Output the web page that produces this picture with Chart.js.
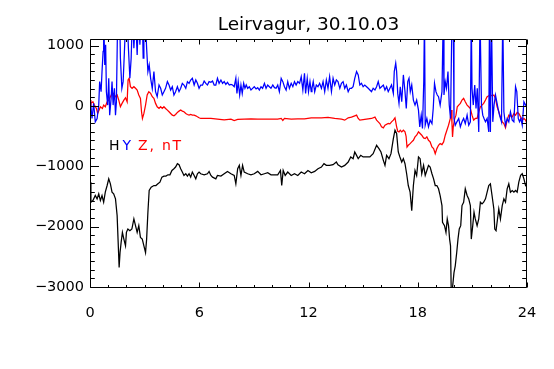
<!DOCTYPE html>
<html><head><meta charset="utf-8">
<script src="https://cdn.jsdelivr.net/npm/chart.js@4/dist/chart.umd.min.js"></script>
<style>html,body{margin:0;padding:0;background:#fff}</style>
</head><body>
<canvas id="c" width="554" height="369"></canvas>
<script>
const chartTitle = "Leirvagur, 30.10.03";
const xTicks = [0, 6, 12, 18, 24];
const yTicks = [-3000, -2000, -1000, 0, 1000];
const legendParts = ["H", "Y", "Z, nT"];

// H component (black)
const hoursH = [0.00,0.05,0.16,0.29,0.39,0.48,0.57,0.66,0.75,0.84,0.94,1.03,1.12,1.21,1.30,1.40,1.49,1.54,1.60,1.65,
1.71,1.78,1.86,1.95,2.00,2.08,2.19,2.30,2.41,2.50,2.59,2.68,2.77,2.87,2.96,3.05,3.11,3.18,3.25,3.36,
3.51,3.62,3.73,3.84,3.95,4.06,4.17,4.28,4.39,4.50,4.61,4.70,4.80,4.89,4.98,5.07,5.16,5.26,5.35,5.44,
5.53,5.62,5.72,5.81,5.90,5.99,6.08,6.27,6.45,6.54,6.64,6.73,6.91,7.00,7.19,7.37,7.55,7.74,7.92,8.01,
8.11,8.20,8.29,8.38,8.47,8.66,8.84,9.02,9.21,9.39,9.58,9.76,9.94,10.13,10.31,10.46,10.53,10.61,10.72,10.86,
11.05,11.23,11.41,11.60,11.78,11.97,12.15,12.34,12.52,12.71,12.85,12.98,13.16,13.35,13.53,13.62,13.81,13.99,14.18,14.32,
14.45,14.54,14.64,14.73,14.87,15.00,15.19,15.37,15.55,15.74,15.87,15.98,16.11,16.20,16.29,16.42,16.53,16.66,16.75,16.84,
16.93,17.02,17.12,17.21,17.30,17.39,17.48,17.58,17.67,17.76,17.85,17.94,18.04,18.13,18.22,18.32,18.41,18.50,18.59,18.68,
18.78,18.87,18.96,19.05,19.14,19.23,19.33,19.36,19.47,19.55,19.62,19.69,19.75,19.80,19.84,19.91,19.99,20.06,20.14,20.21,
20.28,20.36,20.43,20.52,20.61,20.71,20.80,20.89,20.94,21.02,21.09,21.16,21.26,21.35,21.44,21.53,21.62,21.72,21.81,21.90,
21.99,22.08,22.18,22.23,22.30,22.38,22.45,22.54,22.64,22.73,22.82,22.91,23.00,23.09,23.19,23.28,23.37,23.46,23.55,23.65,
23.74,23.83,23.92,24.00];
const valuesH = [-1264,-1597,-1570,-1486,-1542,-1459,-1570,-1486,-1597,-1431,-1320,-1209,-1292,-1431,-1459,-1542,-1820,-2209,-2681,-2431,
-2264,-2097,-2209,-2320,-2097,-2042,-2070,-2042,-1875,-1986,-2097,-1986,-2181,-2209,-2320,-2431,-2209,-1764,-1403,-1347,
-1320,-1320,-1292,-1264,-1181,-1164,-1164,-1142,-1142,-1070,-1042,-1014,-958,-975,-1042,-1097,-1153,-1125,-1164,-1125,
-1181,-1097,-1153,-1209,-1125,-1097,-1125,-1142,-1125,-1086,-1153,-1181,-1209,-1153,-1164,-1125,-1086,-1125,-1153,-1292,
-1042,-986,-1153,-986,-1097,-1125,-1142,-1125,-1086,-1142,-1125,-1108,-1142,-1142,-1142,-1070,-1320,-1070,-1153,-1097,
-1153,-1125,-1153,-1097,-1125,-1070,-1108,-1086,-1042,-1014,-958,-986,-986,-975,-931,-975,-1014,-986,-931,-847,
-875,-764,-820,-875,-819,-847,-847,-847,-792,-653,-708,-764,-903,-986,-819,-875,-792,-542,-403,-458,
-764,-847,-931,-875,-958,-1125,-1320,-1431,-1736,-1320,-1070,-1153,-847,-875,-1125,-986,-1153,-1070,-986,-1014,
-1125,-1209,-1320,-1320,-1375,-1486,-1653,-1931,-1986,-2097,-1875,-1986,-2209,-2320,-3100,-3014,-2764,-2653,-2431,-2209,
-2042,-1986,-1653,-1597,-1375,-1486,-1542,-1653,-2209,-1986,-1764,-1875,-1986,-1875,-1597,-1625,-1597,-1542,-1431,-1320,
-1292,-1486,-1709,-2042,-2070,-1875,-1709,-1875,-1653,-1542,-1597,-1375,-1292,-1431,-1403,-1431,-1403,-1431,-1264,-1153,
-1125,-1209,-1320,-1347];

// Y component (blue)
const hoursY = [0.00,0.02,0.11,0.20,0.29,0.39,0.48,0.53,0.61,0.66,0.72,0.75,0.81,0.86,0.90,0.97,1.03,1.08,1.16,1.21,
1.27,1.34,1.40,1.45,1.52,1.58,1.63,1.67,1.75,1.82,1.89,1.97,2.04,2.11,2.19,2.26,2.33,2.41,2.50,2.59,
2.66,2.74,2.81,2.87,2.92,2.96,3.03,3.11,3.18,3.25,3.33,3.42,3.51,3.60,3.69,3.79,3.88,3.97,4.06,4.15,
4.25,4.34,4.43,4.52,4.61,4.70,4.80,4.89,4.98,5.07,5.16,5.26,5.35,5.44,5.53,5.62,5.72,5.81,5.90,5.99,
6.08,6.18,6.27,6.36,6.45,6.54,6.64,6.73,6.82,6.91,7.00,7.09,7.19,7.28,7.37,7.46,7.55,7.65,7.74,7.83,
7.92,8.01,8.07,8.14,8.22,8.29,8.36,8.44,8.51,8.58,8.66,8.75,8.84,8.93,9.02,9.12,9.21,9.30,9.39,9.48,
9.58,9.67,9.76,9.85,9.94,10.04,10.13,10.22,10.31,10.40,10.50,10.59,10.68,10.77,10.86,10.95,11.05,11.14,11.23,11.32,
11.41,11.51,11.60,11.69,11.78,11.84,11.93,12.00,12.08,12.15,12.19,12.26,12.34,12.43,12.52,12.61,12.71,12.80,12.89,12.98,
13.07,13.16,13.26,13.35,13.44,13.53,13.62,13.72,13.81,13.90,13.99,14.08,14.18,14.27,14.36,14.45,14.54,14.64,14.73,14.82,
14.91,15.00,15.09,15.19,15.28,15.37,15.46,15.55,15.65,15.74,15.83,15.92,16.01,16.11,16.20,16.29,16.38,16.47,16.56,16.66,
16.71,16.79,16.84,16.90,16.97,17.04,17.12,17.21,17.30,17.37,17.45,17.52,17.59,17.67,17.76,17.85,17.94,18.04,18.11,18.19,
18.26,18.33,18.37,18.41,18.50,18.59,18.68,18.78,18.85,18.92,19.00,19.07,19.14,19.23,19.33,19.40,19.44,19.51,19.58,19.66,
19.73,19.80,19.88,19.95,19.99,20.06,20.15,20.25,20.34,20.43,20.52,20.61,20.71,20.80,20.89,20.94,20.98,21.05,21.13,21.20,
21.27,21.35,21.42,21.50,21.57,21.64,21.72,21.81,21.90,21.94,21.99,22.05,22.12,22.19,22.27,22.34,22.41,22.49,22.60,22.67,
22.73,22.82,22.91,23.00,23.09,23.19,23.28,23.37,23.44,23.52,23.59,23.66,23.74,23.83,23.92,24.00];
const valuesY = [292,97,-208,42,-264,-208,14,403,236,569,903,1500,681,1014,236,14,458,-153,125,403,
14,292,-153,69,1500,1500,1500,792,292,403,903,1500,1500,958,458,792,1500,958,1500,847,
1500,1014,1500,1500,792,1500,1500,958,569,681,458,292,569,236,153,347,292,181,236,292,
403,347,264,319,181,236,319,236,292,375,347,292,403,375,430,458,347,430,375,292,
347,347,414,375,347,403,392,414,347,347,458,375,430,375,403,358,392,347,358,347,
319,458,208,403,181,347,208,375,292,347,292,319,264,292,319,281,303,264,319,292,
375,292,347,319,292,347,303,292,347,236,458,403,319,264,403,292,375,319,403,347,
403,375,486,264,542,208,458,236,403,236,292,403,236,347,319,375,292,403,236,430,
292,486,236,458,347,430,403,292,375,403,292,347,236,292,292,319,458,569,514,347,
375,319,347,319,292,264,236,292,264,319,403,292,319,347,264,319,236,292,347,208,
569,708,569,208,42,319,69,514,236,-42,403,458,236,347,97,14,97,-69,-347,-153,
-375,403,1500,-320,-208,-347,-236,-292,-42,375,236,181,153,14,236,1500,181,403,292,569,
14,-208,1500,1500,-208,-320,-264,-208,-347,-264,-208,-292,-153,-320,-264,1500,292,14,347,-42,
292,-431,1500,14,-153,-208,-264,-208,-431,1500,-431,1500,-264,14,181,69,-42,-153,-264,1500,
-97,-320,-208,-264,-97,-236,-264,319,236,-208,-264,-208,-320,69,14,42];

// Z component (red)
const hoursZ = [0.00,0.05,0.16,0.24,0.35,0.42,0.50,0.57,0.68,0.75,0.84,0.94,1.03,1.12,1.21,1.30,1.40,1.49,1.58,1.67,
1.76,1.86,1.95,2.04,2.09,2.15,2.22,2.31,2.41,2.50,2.59,2.68,2.77,2.83,2.88,2.96,3.05,3.14,3.23,3.33,
3.42,3.51,3.60,3.69,3.79,3.88,3.97,4.06,4.15,4.25,4.34,4.43,4.52,4.61,4.70,4.80,4.89,4.98,5.07,5.16,
5.26,5.35,5.44,5.53,5.62,5.72,5.81,5.90,5.99,6.08,6.27,6.64,7.00,7.37,7.74,7.92,8.11,8.47,8.84,9.21,
9.58,9.94,10.31,10.50,10.59,10.68,11.05,11.41,11.78,12.15,12.34,12.71,13.07,13.44,13.81,13.99,14.18,14.36,14.54,14.64,
14.73,14.82,15.09,15.46,15.65,15.74,15.83,15.92,16.01,16.11,16.20,16.38,16.47,16.56,16.66,16.75,16.84,16.90,16.97,17.04,
17.12,17.21,17.30,17.36,17.41,17.48,17.58,17.67,17.76,17.85,17.94,18.04,18.13,18.22,18.32,18.41,18.50,18.59,18.68,18.78,
18.87,18.96,19.05,19.14,19.23,19.33,19.42,19.51,19.60,19.69,19.79,19.84,19.88,19.91,19.95,20.03,20.10,20.17,20.25,20.34,
20.43,20.52,20.61,20.71,20.80,20.89,20.98,21.07,21.16,21.26,21.35,21.44,21.53,21.62,21.72,21.81,21.90,21.99,22.08,22.18,
22.27,22.36,22.45,22.54,22.64,22.73,22.82,22.91,23.00,23.09,23.19,23.28,23.37,23.46,23.55,23.65,23.74,23.83,23.92,24.00];
const valuesZ = [97,42,69,14,-42,-125,-69,-14,-42,14,-14,69,97,153,208,208,153,181,97,-14,
42,97,136,69,430,458,319,292,319,292,264,181,125,-97,-208,-125,14,181,236,208,
153,125,42,-14,-42,-14,-42,-14,-42,-69,-97,-125,-153,-164,-142,-108,-86,-69,-86,-97,
-125,-142,-153,-142,-153,-153,-164,-181,-197,-208,-208,-208,-220,-231,-220,-242,-225,-220,-214,-220,
-220,-220,-220,-208,-242,-208,-220,-214,-214,-197,-197,-197,-192,-208,-220,-236,-197,-186,-164,-153,
-208,-236,-225,-208,-186,-236,-264,-292,-347,-364,-320,-292,-297,-264,-236,-197,-347,-420,-431,-403,
-431,-403,-431,-503,-681,-653,-625,-597,-570,-514,-486,-430,-458,-486,-531,-542,-514,-570,-597,-681,
-708,-792,-708,-653,-625,-642,-597,-486,-403,-320,-208,-69,-292,-514,-347,-208,-153,-14,14,42,
97,125,69,14,-14,-42,-153,-236,-208,-208,-97,-14,14,42,97,153,169,181,169,181,
125,-14,-97,-181,-264,-292,-364,-236,-153,-164,-181,-125,-153,-108,-125,-181,-236,-208,-236,-292];

const xMinorStep = 1;
const yMinorPerMajor = 7;

function pts(hs, vs) { return hs.map((h, i) => ({ x: h, y: vs[i] })); }

const FONT = "'DejaVu Sans', 'Liberation Sans', sans-serif";

const framePlugin = {
  id: 'frame',
  afterDraw(chart) {
    const { ctx, chartArea: a, scales: { x, y } } = chart;
    const L = Math.round(a.left) + 0.5, R = Math.round(a.right) - 0.5;
    const T = Math.round(a.top) + 0.5, B = Math.round(a.bottom) - 0.5;
    ctx.save();
    ctx.strokeStyle = '#000';
    ctx.lineWidth = 1;
    ctx.beginPath();
    ctx.rect(L, T, R - L, B - T);
    const xMajLen = 5, xMinLen = 2.5, yMajLen = 8.5, yMinLen = 4.3;
    for (let v = x.min; v <= x.max + 1e-9; v += xMinorStep) {
      const major = xTicks.includes(Math.round(v));
      const len = major ? xMajLen : xMinLen;
      const px = Math.round(x.getPixelForValue(v)) + 0.5;
      ctx.moveTo(px, B); ctx.lineTo(px, B - len);
      ctx.moveTo(px, T); ctx.lineTo(px, T + len);
    }
    const step = yTicks[1] - yTicks[0];
    for (let k = yTicks[0] - step; k <= yTicks[yTicks.length - 1] + step; k += step) {
      for (let i = 0; i < yMinorPerMajor; i++) {
        const v = k + i * step / yMinorPerMajor;
        if (v < y.min || v > y.max) continue;
        const len = i === 0 ? yMajLen : yMinLen;
        const py = Math.round(y.getPixelForValue(v)) + 0.5;
        ctx.moveTo(L, py); ctx.lineTo(L + len, py);
        ctx.moveTo(R, py); ctx.lineTo(R - len, py);
      }
    }
    ctx.stroke();
    // title
    ctx.fillStyle = '#000';
    ctx.font = "18.5px " + FONT;
    ctx.textAlign = 'center';
    ctx.textBaseline = 'alphabetic';
    ctx.fillText(chartTitle, (a.left + a.right) / 2, 30);
    // in-plot legend text
    ctx.font = "14px " + FONT;
    ctx.textAlign = 'left';
    try { ctx.letterSpacing = '1.8px'; } catch (e) {}
    const colors = ['#000000', '#0000ff', '#ff0000'];
    const xs = [a.left + 19, a.left + 32.5, a.left + 48];
    legendParts.forEach((t, i) => {
      ctx.fillStyle = colors[i];
      ctx.fillText(t, xs[i], a.top + 111);
    });
    ctx.restore();
  }
};

new Chart(document.getElementById('c'), {
  type: 'line',
  data: {
    datasets: [
      { label: 'H', data: pts(hoursH, valuesH), borderColor: '#000000', borderWidth: 1.25, pointRadius: 0, tension: 0, fill: false },
      { label: 'Y', data: pts(hoursY, valuesY), borderColor: '#0000ff', borderWidth: 1.25, pointRadius: 0, tension: 0, fill: false },
      { label: 'Z', data: pts(hoursZ, valuesZ), borderColor: '#ff0000', borderWidth: 1.25, pointRadius: 0, tension: 0, fill: false }
    ]
  },
  options: {
    responsive: false,
    animation: false,
    devicePixelRatio: 1,
    layout: { padding: { top: 39, right: 27, left: 0, bottom: 0 } },
    plugins: { legend: { display: false }, title: { display: false }, tooltip: { enabled: false } },
    scales: {
      x: {
        type: 'linear', min: 0, max: 24,
        afterBuildTicks: s => { s.ticks = xTicks.map(v => ({ value: v })); },
        afterFit: s => { s.height = 81; },
        grid: { display: false, drawTicks: false, tickLength: 0 },
        border: { display: false },
        ticks: { color: '#000', font: { family: FONT, size: 14.5 }, padding: 17, maxRotation: 0, autoSkip: false }
      },
      y: {
        type: 'linear', min: -3020, max: 1110,
        afterBuildTicks: s => { s.ticks = yTicks.map(v => ({ value: v })); },
        afterFit: s => { s.width = 90; },
        grid: { display: false, drawTicks: false, tickLength: 0 },
        border: { display: false },
        ticks: { color: '#000', font: { family: FONT, size: 14.5 }, padding: 6, autoSkip: false,
          callback: v => String(v).replace('-', '\u2212') }
      }
    }
  },
  plugins: [framePlugin]
});
</script>
</body></html>
